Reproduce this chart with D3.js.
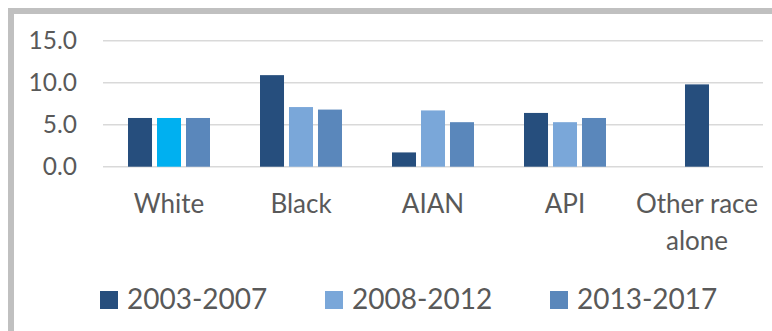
<!DOCTYPE html>
<html>
<head>
<meta charset="utf-8">
<script src="https://cdn.jsdelivr.net/npm/d3@7"></script>
<style>
  html, body { margin: 0; padding: 0; background: #ffffff; }
  svg { display: block; }
  text { font-family: Lato, "Open Sans", sans-serif; fill: #595959; }
</style>
</head>
<body>
<svg id="chart" width="772" height="331"></svg>
<script>
// ---- data ----
const categories = ["White", "Black", "AIAN", "API", "Other race alone"];
const seriesNames = ["2003-2007", "2008-2012", "2013-2017"];
const values2003_2007 = [5.8, 10.9, 1.7, 6.4, 9.8];
const values2008_2012 = [5.8, 7.1, 6.7, 5.3, null];
const values2013_2017 = [5.8, 6.8, 5.3, 5.8, null];
const yTicks = [0, 5, 10, 15];

// ---- styles ----
const seriesColors = ["#264e7d", "#7aa7d9", "#5a87bb"];
const pointColorOverrides = { "White|2008-2012": "#00b0f0" };

const seriesValues = [values2003_2007, values2008_2012, values2013_2017];

const svg = d3.select("#chart");

// frame (grey border on top and left, runs past right/bottom edges)
svg.append("rect")
  .attr("x", 11).attr("y", 11)
  .attr("width", 900).attr("height", 500)
  .attr("fill", "#ffffff")
  .attr("stroke", "#c0c0c0").attr("stroke-width", 6);

const plot = { left: 103, right: 763, top: 40.7, bottom: 166.7 };

const x = d3.scaleBand().domain(categories).range([plot.left, plot.right]).padding(0);
const y = d3.scaleLinear().domain([0, 15]).range([plot.bottom, plot.top]);
const groupWidth = 82;
const x1 = d3.scaleBand().domain(d3.range(seriesNames.length))
  .range([0, groupWidth]).paddingInner(0.172).paddingOuter(0);

// gridlines
svg.append("g").selectAll("line").data(yTicks).join("line")
  .attr("x1", plot.left).attr("x2", plot.right)
  .attr("y1", d => y(d)).attr("y2", d => y(d))
  .attr("stroke", "#d9d9d9").attr("stroke-width", 1.6);

// y axis labels
const yAxis = d3.axisLeft(y).tickValues(yTicks).tickFormat(d3.format(".1f")).tickSize(0).tickPadding(0);
const yg = svg.append("g").attr("transform", "translate(77,0)").call(yAxis);
yg.select(".domain").remove();
yg.selectAll("text")
  .attr("font-size", 24.5)
  .attr("fill", "#595959")
  .style("font-family", "Lato, 'Open Sans', sans-serif");

// bars
const bars = [];
categories.forEach((c, ci) => {
  const present = seriesNames.map((s, si) => ({ s, si, v: seriesValues[si][ci] }))
    .filter(d => d.v != null);
  const k = present.length;
  const groupStart = x(c) + (x.bandwidth() - groupWidth) / 2;
  present.forEach((d, i) => {
    const slot = i + (seriesNames.length - k) / 2;
    bars.push({
      cat: c, series: d.s, si: d.si, value: d.v,
      x: groupStart + x1(0) + slot * x1.step()
    });
  });
});

svg.append("g").selectAll("rect").data(bars).join("rect")
  .attr("x", d => d.x)
  .attr("y", d => y(d.value))
  .attr("width", x1.bandwidth())
  .attr("height", d => y(0) - y(d.value))
  .attr("fill", d => pointColorOverrides[d.cat + "|" + d.series] || seriesColors[d.si]);

// category labels (wrapped)
const labelLines = { "Other race alone": ["Other race", "alone"] };
const cl = svg.append("g");
categories.forEach(c => {
  const lines = labelLines[c] || [c];
  const t = cl.append("text")
    .attr("x", x(c) + x.bandwidth() / 2)
    .attr("y", 213)
    .attr("text-anchor", "middle")
    .attr("font-size", 26);
  lines.forEach((ln, i) => {
    t.append("tspan").attr("x", x(c) + x.bandwidth() / 2)
      .attr("dy", i === 0 ? 0 : 37).text(ln);
  });
});

// legend
const legendX = 100, legendStep = 225, legendY = 291, sq = 18;
const lg = svg.append("g");
seriesNames.forEach((s, i) => {
  const gx = legendX + i * legendStep;
  lg.append("rect").attr("x", gx).attr("y", legendY)
    .attr("width", sq).attr("height", sq).attr("fill", seriesColors[i]);
  lg.append("text").attr("x", gx + sq + 9).attr("y", legendY + 18)
    .attr("font-size", 28).text(s);
});
</script>
</body>
</html>
